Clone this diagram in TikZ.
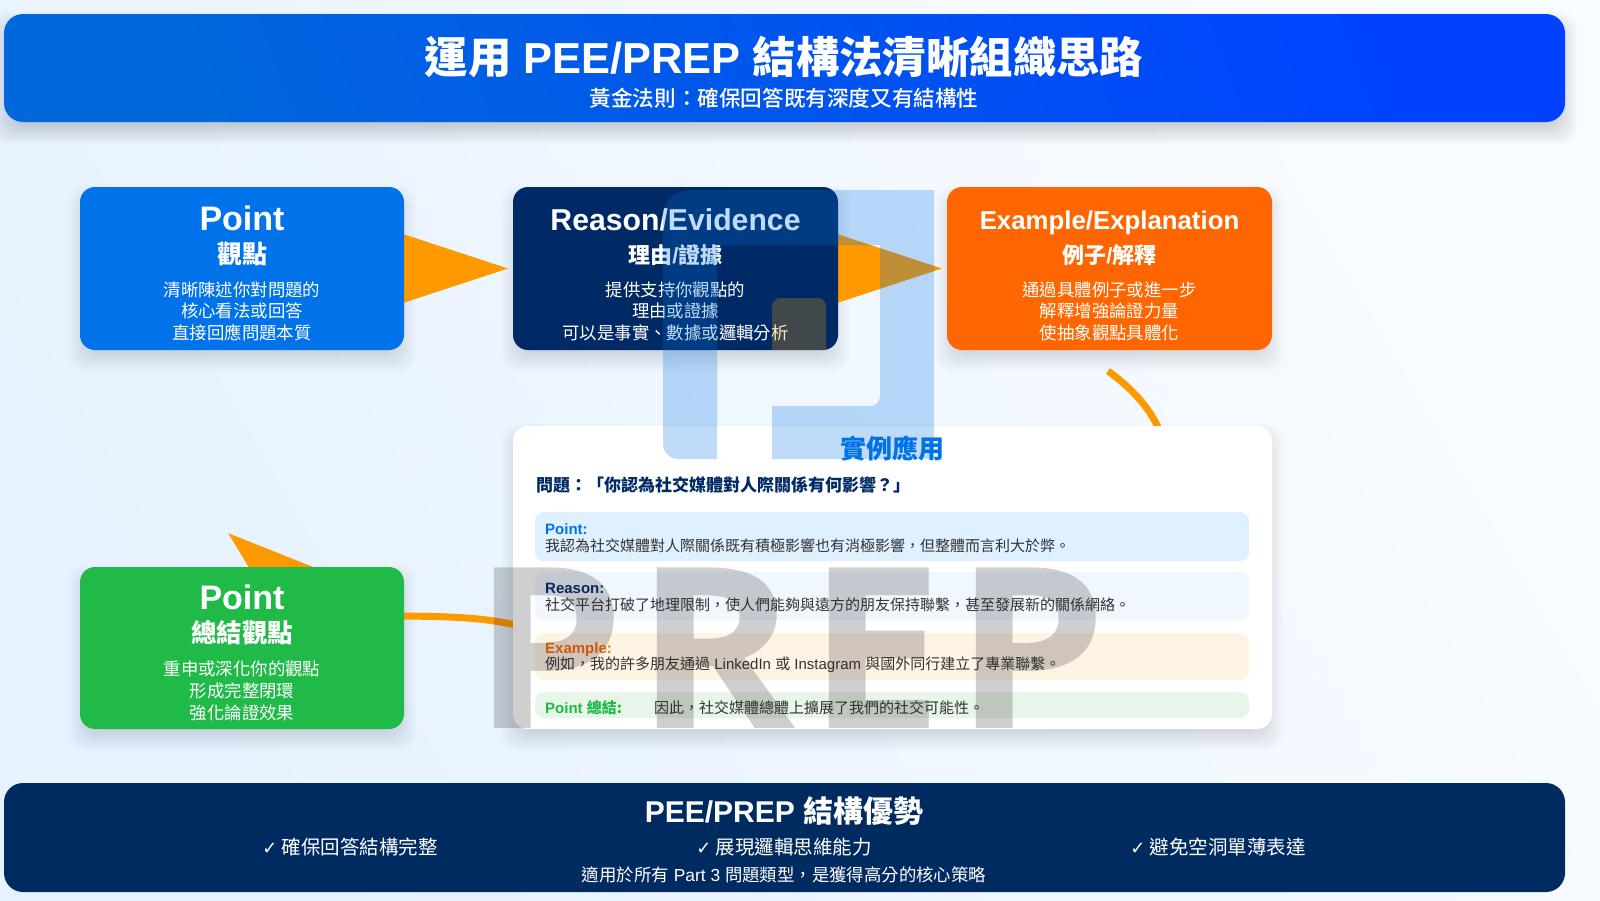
\documentclass[tikz,border=0pt]{standalone}
\usepackage{fontspec}
\setmainfont{Liberation Sans}
\newfontfamily\cjk{Noto Sans CJK TC}
\newfontfamily\cjkm{Noto Sans CJK TC Medium}
\newfontfamily\symf{DejaVu Sans}
\newfontfamily\wmf{Open Sans}[LetterSpace=5,FakeStretch=1.08,BoldFont={Open Sans Bold}]
\usetikzlibrary{arrows.meta}
\newcommand\zh[1]{{\cjk #1}}
\newcommand\fsz[1]{\fontsize{#1}{#1}\selectfont}
\definecolor{navy}{HTML}{002A66}
\definecolor{foot}{HTML}{002B60}
\definecolor{pblue}{HTML}{0073EA}
\definecolor{headl}{HTML}{0068DC}
\definecolor{headr}{HTML}{0042FF}
\definecolor{eorange}{HTML}{FF6600}
\definecolor{pgreen}{HTML}{20BA48}
\definecolor{arrowc}{HTML}{FF9900}
\definecolor{wmblue}{HTML}{0072E0}
\definecolor{bga}{HTML}{E6F2FF}
\definecolor{bgb}{HTML}{F9FCFF}
\definecolor{rowa}{HTML}{DFF0FF}
\definecolor{rowb}{HTML}{F0F7FF}
\definecolor{rowc}{HTML}{FFF3E4}
\definecolor{rowd}{HTML}{E8F5E9}
\definecolor{bodytxt}{HTML}{333333}
\tikzset{
  x=1pt,y=-1pt,
  boxnode/.style={rounded corners=15pt,inner sep=0pt,outer sep=0pt,minimum width=325pt,minimum height=163pt},
  banner/.style={rounded corners=19pt,inner sep=0pt,outer sep=0pt,minimum width=1561pt},
  rownode/.style={rounded corners=9pt,inner sep=0pt,outer sep=0pt,minimum width=714pt},
  wtxt/.style={text=white,inner sep=0pt,align=center},
  boxbody/.style={wtxt,font=\cjk\fsz{17.4}},
  rowlabel/.style={inner sep=0pt,anchor=west,font=\bfseries\fsz{15}},
  rowtxt/.style={inner sep=0pt,anchor=west,text=bodytxt,font=\fsz{15}},
  flow/.style={draw=arrowc,fill=arrowc,line width=1pt},
  curveline/.style={draw=arrowc,line width=7pt},
  bigtip/.tip={Triangle[length=104pt,width=68pt]}
}
\newcommand\softshadow[5]{%
  \foreach \k in {0,...,11}{%
    \pgfmathsetmacro\sp{12-2*\k}
    \fill[black,opacity=#5,rounded corners=16pt]
      (#1-\sp,#2-\sp+10) rectangle (#3+\sp,#4+\sp+10);
  }}
\begin{document}
\begin{tikzpicture}
\useasboundingbox (0,0) rectangle (1600,900);
\shade[left color=bga,right color=bgb,shading angle=120] (0,0) rectangle (1600,900);
% shadows
\softshadow{4}{14}{1565}{122}{0.014}
\softshadow{80}{187}{404}{350}{0.012}
\softshadow{513}{187}{838}{350}{0.012}
\softshadow{947}{187}{1272}{350}{0.012}
\softshadow{80}{567}{404}{729}{0.012}
\softshadow{513}{426}{1272}{729}{0.01}
% anchors for the free connector ends
\coordinate (exfree) at (1108,371);
\coordinate (cardin) at (1160,432);
\coordinate (cardout) at (520,626);
\coordinate (ptip) at (228,533);
% boxes are placed first only as names for the connectors
\path node[boxnode,minimum width=324pt] (point) at (242,268.5) {}
      node[boxnode] (reason) at (675.5,268.5) {}
      node[boxnode] (example) at (1109.5,268.5) {};
% connectors
\draw[flow,-{bigtip},shorten >=5pt] (point.east) -- (reason.west);
\draw[flow,-{bigtip},shorten >=5pt] (reason.east) -- (example.west);
\draw[curveline] (exfree) .. controls (1130,387) and (1150,407) .. (cardin);
\draw[curveline,-{Triangle[length=104pt,width=68pt]}] (cardout) .. controls (440,606) and (340,628) .. (ptip);
% banners
\node[banner,minimum height=108pt,left color=headl,right color=headr,shading angle=110] (head) at (784.5,68) {};
\node[wtxt,font=\bfseries\fsz{43.4}] (headt) at (784,57) {\zh{運用} PEE/PREP \zh{結構法清晰組織思路}};
\node[wtxt,font=\cjkm\fsz{21.6}] (heads) at (784,98) {黃金法則：確保回答既有深度又有結構性};
\node[banner,minimum height=109pt,fill=foot] (foot) at (784.5,837.5) {};
\node[wtxt,font=\bfseries\fsz{30}] (foott) at (784,811) {PEE/PREP \zh{結構優勢}};
\node[wtxt,font=\cjk\fsz{19.5}] (f1) at (350,847) {{\symf\fsz{18}✓} 確保回答結構完整};
\node[wtxt,font=\cjk\fsz{19.5}] (f2) at (784,847) {{\symf\fsz{18}✓} 展現邏輯思維能力};
\node[wtxt,font=\cjk\fsz{19.5}] (f3) at (1218,847) {{\symf\fsz{18}✓} 避免空洞單薄表達};
\node[wtxt,font=\fsz{17.4}] (f4) at (784,875) {\zh{適用於所有} Part 3 \zh{問題類型，是獲得高分的核心策略}};
% coloured boxes
\node[boxnode,minimum width=324pt,fill=pblue] at (point) {};
\node[boxnode,fill=navy] at (reason) {};
\node[boxnode,fill=eorange] at (example) {};
\node[boxnode,minimum width=324pt,minimum height=162pt,fill=pgreen] (close) at (242,648) {};
% box texts
\node[wtxt,font=\bfseries\fsz{34}] (pt1) at (242,218) {Point};
\node[wtxt,font=\cjk\bfseries\fsz{25}] (pt2) at (242,254) {觀點};
\node[boxbody] (pt3) at (242,289.5) {清晰陳述你對問題的};
\node[boxbody] (pt4) at (242,311) {核心看法或回答};
\node[boxbody] (pt5) at (242,333) {直接回應問題本質};
\node[wtxt,font=\bfseries\fsz{30.2}] (rs1) at (675.5,220) {Reason/Evidence};
\node[wtxt,font=\bfseries\fsz{22}] (rs2) at (675.5,255) {\zh{理由}/\zh{證據}};
\node[boxbody] (rs3) at (675.5,289.5) {提供支持你觀點的};
\node[boxbody] (rs4) at (675.5,311) {理由或證據};
\node[boxbody] (rs5) at (675.5,333) {可以是事實、數據或邏輯分析};
\node[wtxt,font=\bfseries\fsz{25.8}] (ex1) at (1109.5,222.5) {Example/Explanation};
\node[wtxt,font=\bfseries\fsz{22}] (ex2) at (1109.5,255.5) {\zh{例子}/\zh{解釋}};
\node[boxbody] (ex3) at (1109.5,289.5) {通過具體例子或進一步};
\node[boxbody] (ex4) at (1109.5,311) {解釋增強論證力量};
\node[boxbody] (ex5) at (1109.5,333) {使抽象觀點具體化};
\node[wtxt,font=\bfseries\fsz{34}] (cl1) at (242,597) {Point};
\node[wtxt,font=\cjk\bfseries\fsz{25.5}] (cl2) at (242,633) {總結觀點};
\node[boxbody] (cl3) at (242,669) {重申或深化你的觀點};
\node[boxbody] (cl4) at (242,691) {形成完整閉環};
\node[boxbody] (cl5) at (242,713) {強化論證效果};
% example card
\node[boxnode,minimum width=759pt,minimum height=303pt,fill=white] (card) at (892.5,577.5) {};
\node[font=\cjk\bfseries\fsz{26},text=pblue,inner sep=0pt] (cardt) at (892,449) {實例應用};
\node[font=\cjk\bfseries\fsz{17},text=navy,inner sep=0pt,anchor=west] (cardq) at (536,485) {問題：「你認為社交媒體對人際關係有何影響？」};
\node[rownode,minimum height=49pt,fill=rowa] (r1) at (892,536.5) {};
\node[rownode,minimum height=48pt,fill=rowb] (r2) at (892,596) {};
\node[rownode,minimum height=47pt,fill=rowc] (r3) at (892,656.5) {};
\node[rownode,minimum height=26pt,fill=rowd] (r4) at (892,705) {};
\node[rowlabel,text=pblue] (l1) at (545,529) {Point:};
\node[rowtxt,font=\cjk\fsz{15}] (t1) at (545,546) {我認為社交媒體對人際關係既有積極影響也有消極影響，但整體而言利大於弊。};
\node[rowlabel,text=navy] (l2) at (545,588.5) {Reason:};
\node[rowtxt,font=\cjk\fsz{15}] (t2) at (545,605) {社交平台打破了地理限制，使人們能夠與遠方的朋友保持聯繫，甚至發展新的關係網絡。};
\node[rowlabel,text=eorange] (l3) at (545,649.5) {Example:};
\node[rowtxt] (t3) at (545,665) {\zh{例如，我的許多朋友通過} LinkedIn \zh{或} Instagram \zh{與國外同行建立了專業聯繫。}};
\node[rowlabel,text=pgreen] (l4) at (545,708) {Point \zh{總結:}};
\node[rowtxt,font=\cjk\fsz{15}] (t4) at (654,708) {因此，社交媒體總體上擴展了我們的社交可能性。};
% watermarks
\fill[wmblue,opacity=.25] (934,190) -- (690,190) .. controls (675,190) and (663,202) .. (663,217) -- (663,444)
  .. controls (663,452) and (670,459) .. (678,459) -- (717,459) -- (717,245) -- (880,245) -- (880,396)
  .. controls (880,402) and (876,406) .. (870,406) -- (772,406) -- (772,459) -- (934,459) -- cycle;
\fill[arrowc!90!yellow,opacity=.25] (772,350) -- (772,306) .. controls (772,302) and (776,298) .. (780,298)
  -- (818,298) .. controls (822,298) and (826,302) .. (826,306) -- (826,350) -- cycle;
\node[anchor=base west,inner sep=0pt,text=black!85,text opacity=.22,font=\wmf\bfseries\fsz{225}] (wm) at (472,728) {PREP};
\end{tikzpicture}
\end{document}
